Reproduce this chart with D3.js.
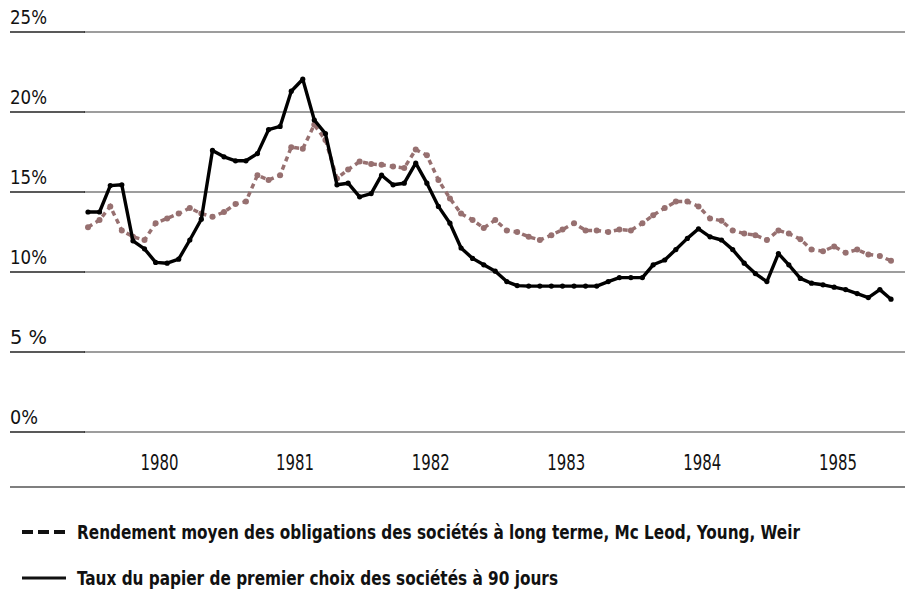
<!DOCTYPE html>
<html>
<head>
<meta charset="utf-8">
<script src="https://cdn.jsdelivr.net/npm/d3@7"></script>
<style>
  body { margin: 0; background: #fff; }
  .lbl { font-family: "Liberation Sans Narrow", "Arial Narrow", "DejaVu Sans Condensed", sans-serif; fill: #111; }
</style>
</head>
<body>
<div id="chart"></div>
<script>
// monthly values, Jan 1980 .. Dec 1985
var years = [1980, 1981, 1982, 1983, 1984, 1985];
var yTicks = [0, 5, 10, 15, 20, 25];
var yTickLabels = ["0%", "5 %", "10%", "15%", "20%", "25%"];

// Rendement moyen des obligations des sociétés à long terme (dashed)
var longTerm = [
  12.8, 13.25, 14.1, 12.6, 12.2, 12.0, 13.05, 13.35, 13.65, 14.0, 13.65, 13.45,
  13.75, 14.25, 14.4, 16.05, 15.75, 16.05, 17.8, 17.7, 19.2, 18.25, 15.85, 16.4,
  16.9, 16.75, 16.7, 16.6, 16.5, 17.65, 17.3, 15.75, 14.6, 13.65, 13.25, 12.75,
  13.25, 12.6, 12.5, 12.2, 12.0, 12.3, 12.65, 13.05, 12.6, 12.6, 12.5, 12.65,
  12.6, 13.05, 13.55, 14.0, 14.4, 14.4, 14.1, 13.35, 13.2, 12.6, 12.4, 12.3,
  12.0, 12.6, 12.4, 12.05, 11.4, 11.3, 11.6, 11.2, 11.4, 11.1, 11.0, 10.7
];

// Taux du papier de premier choix des sociétés à 90 jours (solid)
var paper90 = [
  13.75, 13.75, 15.4, 15.45, 11.95, 11.45, 10.6, 10.55, 10.8, 12.0, 13.3, 17.6,
  17.2, 16.95, 16.95, 17.4, 18.9, 19.1, 21.3, 22.05, 19.5, 18.65, 15.45, 15.55,
  14.7, 14.9, 16.05, 15.45, 15.55, 16.8, 15.55, 14.1, 13.05, 11.5, 10.85, 10.45,
  10.05, 9.4, 9.15, 9.12, 9.12, 9.12, 9.12, 9.12, 9.12, 9.12, 9.4, 9.65,
  9.65, 9.65, 10.45, 10.75, 11.4, 12.1, 12.7, 12.2, 12.0, 11.4, 10.55, 9.9,
  9.4, 11.15, 10.45, 9.6, 9.3, 9.2, 9.05, 8.9, 8.65, 8.4, 8.9, 8.3
];

var legendLabels = [
  "Rendement moyen des obligations des sociétés à long terme, Mc Leod, Young, Weir",
  "Taux du papier de premier choix des sociétés à 90 jours"
];

var width = 908, height = 592;
var dashColor = "#977070";

var svg = d3.select("#chart").append("svg")
  .attr("width", width)
  .attr("height", height);

var months = longTerm.map(function(d, i) { return new Date(1980, i, 1); });

var x = d3.scaleTime()
  .domain([months[0], months[months.length - 1]])
  .range([88, 891]);
var y = d3.scaleLinear().domain([0, 25]).range([432, 32]);

// horizontal grid lines
var grid = svg.append("g");
grid.selectAll("line.g")
  .data(yTicks)
  .enter().append("line")
  .attr("class", "g")
  .attr("x1", 84).attr("x2", 905)
  .attr("y1", function(d) { return y(d); })
  .attr("y2", function(d) { return y(d); })
  .attr("stroke", "#7d7d7d")
  .attr("stroke-width", 1.6);
grid.selectAll("line.s")
  .data(yTicks)
  .enter().append("line")
  .attr("class", "s")
  .attr("x1", 10).attr("x2", 85)
  .attr("y1", function(d) { return y(d); })
  .attr("y2", function(d) { return y(d); })
  .attr("stroke", "#222")
  .attr("stroke-width", 1.6);

// y labels, left aligned above the lines
grid.selectAll("text")
  .data(yTicks)
  .enter().append("text")
  .attr("class", "lbl")
  .attr("x", 10)
  .attr("y", function(d) { return y(d) - 8; })
  .attr("font-size", 19)
  .attr("fill", "#222")
  .attr("textLength", function(d, i) { return yTickLabels[i].length === 2 ? 28 : 37; })
  .attr("lengthAdjust", "spacingAndGlyphs")
  .text(function(d, i) { return yTickLabels[i]; });

// year labels
var xAxis = svg.append("g")
  .attr("transform", "translate(0,470)")
  .call(d3.axisBottom(x)
    .tickValues(years.map(function(yr) { return new Date(yr, 6, 10); }))
    .tickSize(0)
    .tickFormat(d3.timeFormat("%Y")));
xAxis.select(".domain").remove();
xAxis.selectAll("text")
  .attr("class", "lbl")
  .attr("y", 0)
  .attr("dy", 0)
  .attr("font-size", 21)
  .attr("textLength", 38)
  .attr("lengthAdjust", "spacingAndGlyphs")
  .attr("fill", "#111");

svg.append("line")
  .attr("x1", 10).attr("x2", 905)
  .attr("y1", 487).attr("y2", 487)
  .attr("stroke", "#555")
  .attr("stroke-width", 1.6);

var line = d3.line()
  .x(function(d, i) { return x(months[i]); })
  .y(function(d) { return y(d); });

// dashed series
svg.append("path")
  .datum(longTerm)
  .attr("fill", "none")
  .attr("stroke", dashColor)
  .attr("stroke-width", 3.5)
  .attr("stroke-dasharray", "5,4")
  .attr("d", line);
svg.append("g").selectAll("circle")
  .data(longTerm)
  .enter().append("circle")
  .attr("cx", function(d, i) { return x(months[i]); })
  .attr("cy", function(d) { return y(d); })
  .attr("r", 3)
  .attr("fill", dashColor);

// solid series
svg.append("path")
  .datum(paper90)
  .attr("fill", "none")
  .attr("stroke", "#000")
  .attr("stroke-width", 3.4)
  .attr("stroke-linejoin", "round")
  .attr("d", line);
svg.append("g").selectAll("circle")
  .data(paper90)
  .enter().append("circle")
  .attr("cx", function(d, i) { return x(months[i]); })
  .attr("cy", function(d) { return y(d); })
  .attr("r", 2.6)
  .attr("fill", "#000");

// legend
var legend = svg.append("g");
legend.append("line")
  .attr("x1", 22).attr("x2", 66)
  .attr("y1", 532).attr("y2", 532)
  .attr("stroke", "#111")
  .attr("stroke-width", 4)
  .attr("stroke-dasharray", "11,5");
legend.append("line")
  .attr("x1", 22).attr("x2", 66)
  .attr("y1", 578).attr("y2", 578)
  .attr("stroke", "#111")
  .attr("stroke-width", 3);
legend.selectAll("text")
  .data(legendLabels)
  .enter().append("text")
  .attr("class", "lbl")
  .attr("x", 77)
  .attr("y", function(d, i) { return 539 + i * 46; })
  .attr("font-size", 19)
  .attr("font-weight", "bold")
  .attr("textLength", function(d, i) { return i === 0 ? 723 : 481; })
  .attr("lengthAdjust", "spacingAndGlyphs")
  .text(function(d) { return d; });
</script>
</body>
</html>
